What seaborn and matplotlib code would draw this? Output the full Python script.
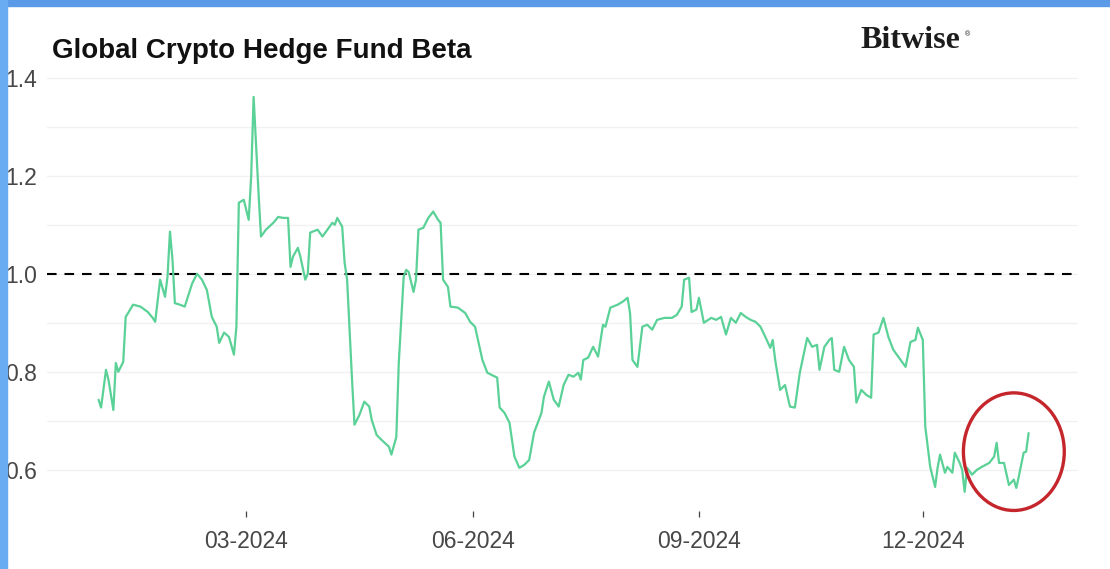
import numpy as np
import pandas as pd
import matplotlib
matplotlib.use("Agg")
import matplotlib.pyplot as plt
import matplotlib.dates as mdates
from matplotlib.patches import Ellipse, Rectangle
import seaborn as sns

START = "2024-01-01"

# days after START
days = [0, 1, 3, 4, 6, 7, 8, 10, 11, 12, 14, 17, 20, 22, 23, 25, 27, 28, 29, 30,
        31, 33, 35, 38, 40, 42, 44, 46, 48, 49, 51, 53, 55, 56, 57, 59, 61, 62, 63, 65,
        66, 68, 71, 73, 75, 77, 78, 79, 81, 82, 84, 85, 86, 87, 89, 91, 93, 95, 96, 97,
        99, 100, 101, 103, 104, 106, 108, 110, 111, 113, 115, 118, 119, 121, 122, 124, 125, 126, 128, 129,
        130, 132, 134, 136, 138, 139, 140, 142, 143, 146, 149, 151, 153, 156, 158, 162, 163, 165, 167, 169,
        171, 173, 175, 177, 180, 181, 183, 185, 187, 189, 191, 193, 195, 196, 197, 199, 201, 203, 205, 206,
        208, 211, 213, 215, 216, 217, 219, 221, 223, 225, 227, 230, 233, 235, 237, 238, 240, 241, 243, 244,
        246, 249, 251, 253, 255, 257, 259, 261, 263, 265, 267, 269, 271, 273, 274, 275, 277, 279, 281, 283,
        285, 288, 290, 292, 293, 295, 297, 298, 299, 301, 303, 305, 307, 308, 310, 312, 314, 315, 317, 319,
        321, 323, 325, 328, 330, 332, 333, 335, 336, 338, 340, 341, 342, 344, 345, 347, 348, 350, 351, 352,
        353, 355, 357, 359, 362, 364, 365, 366, 368, 370, 372, 373, 374, 376, 377, 378]

beta = [0.743, 0.727, 0.804, 0.784, 0.722, 0.818, 0.800, 0.820, 0.912, 0.920, 0.937, 0.933, 0.922, 0.910, 0.902, 0.988, 0.953, 0.994, 1.086, 1.030,
        0.940, 0.937, 0.933, 0.980, 1.000, 0.988, 0.967, 0.912, 0.892, 0.859, 0.880, 0.871, 0.835, 0.892, 1.145, 1.151, 1.110, 1.198, 1.361, 1.165,
        1.076, 1.090, 1.104, 1.116, 1.114, 1.114, 1.014, 1.035, 1.053, 1.035, 0.988, 1.000, 1.084, 1.086, 1.090, 1.076, 1.090, 1.104, 1.100, 1.114,
        1.096, 1.022, 0.988, 0.784, 0.692, 0.712, 0.739, 0.729, 0.702, 0.671, 0.661, 0.647, 0.631, 0.667, 0.818, 0.994, 1.008, 1.004, 0.963, 0.988,
        1.090, 1.094, 1.114, 1.127, 1.110, 1.104, 0.988, 0.973, 0.933, 0.931, 0.920, 0.902, 0.892, 0.824, 0.798, 0.788, 0.727, 0.716, 0.696, 0.627,
        0.604, 0.610, 0.620, 0.676, 0.716, 0.749, 0.780, 0.743, 0.729, 0.773, 0.794, 0.790, 0.798, 0.784, 0.824, 0.829, 0.851, 0.831, 0.896, 0.892,
        0.931, 0.937, 0.943, 0.951, 0.920, 0.824, 0.810, 0.892, 0.896, 0.886, 0.906, 0.910, 0.910, 0.916, 0.933, 0.988, 0.992, 0.922, 0.927, 0.951,
        0.900, 0.910, 0.906, 0.912, 0.876, 0.910, 0.900, 0.920, 0.912, 0.906, 0.902, 0.892, 0.871, 0.849, 0.865, 0.824, 0.763, 0.773, 0.729, 0.727,
        0.798, 0.869, 0.851, 0.855, 0.804, 0.851, 0.865, 0.869, 0.804, 0.800, 0.851, 0.824, 0.810, 0.737, 0.763, 0.753, 0.747, 0.876, 0.880, 0.910,
        0.871, 0.845, 0.831, 0.810, 0.861, 0.865, 0.890, 0.865, 0.688, 0.606, 0.565, 0.604, 0.631, 0.594, 0.606, 0.594, 0.635, 0.614, 0.600, 0.555,
        0.604, 0.590, 0.600, 0.606, 0.614, 0.627, 0.655, 0.614, 0.614, 0.569, 0.580, 0.563, 0.586, 0.635, 0.637, 0.675]

x_ticks = ["2024-03-01", "2024-06-01", "2024-09-01", "2024-12-01"]
y_ticks = [0.6, 0.8, 1.0, 1.2, 1.4]

df = pd.DataFrame({"date": pd.Timestamp(START) + pd.to_timedelta(days, unit="D"), "beta": beta})

sns.set_theme(style="white")
plt.rcParams["font.family"] = ["Liberation Sans", "DejaVu Sans"]

fig = plt.figure(figsize=(11.1, 5.69), dpi=100)
ax = fig.add_axes([0.0423, 0.102, 0.9287, 0.782])

# faint horizontal grid every 0.1
for v in np.arange(0.6, 1.41, 0.1):
    ax.axhline(v, color="#f1f1f1", lw=1.0, zorder=0)

sns.lineplot(data=df, x="date", y="beta", color="#5ad196", lw=1.6, ax=ax, zorder=3)
ax.axhline(1.0, color="black", lw=1.5, ls=(0, (4.6, 3.8)), zorder=2)

ax.set_xlim(pd.Timestamp("2023-12-11"), pd.Timestamp("2025-02-02"))
ax.set_ylim(0.516, 1.424)
ax.set_xticks(pd.to_datetime(x_ticks))
ax.xaxis.set_major_formatter(mdates.DateFormatter("%m-%Y"))
ax.set_yticks(y_ticks)
ax.set_yticklabels([f"{v:.1f}" for v in y_ticks])
ax.set_xlabel("")
ax.set_ylabel("")
for s in ax.spines.values():
    s.set_visible(False)
ax.tick_params(axis="x", length=4.5, width=0.9, color="#444444", pad=9,
               labelsize=16.5, labelcolor="#474747", bottom=True, direction="out")
ax.tick_params(axis="y", length=0, pad=7, labelsize=16.5, labelcolor="#474747")

# hand drawn circle around the latest readings
cx = mdates.date2num(pd.Timestamp(START) + pd.Timedelta(days=372))
ax.add_patch(Ellipse((cx, 0.637), 41, 0.24, fill=False, ec="#c4262c", lw=2.4,
                     clip_on=False, zorder=4))

fig.text(0.047, 0.898, "Global Crypto Hedge Fund Beta", fontsize=20,
         fontweight="bold", color="#111111", va="baseline", ha="left")
fig.text(0.775, 0.9156, "Bitwise", fontsize=23, family="Liberation Serif",
         fontweight="bold", color="#1c1c1c", va="baseline", ha="left")
fig.text(0.869, 0.937, "®", fontsize=5, color="#1c1c1c", va="baseline", ha="left")

# blue frame of the screenshot
fig.add_artist(Rectangle((0, 1 - 6 / 569), 1, 6 / 569, transform=fig.transFigure,
                         color="#5b9ae6", zorder=10))
fig.add_artist(Rectangle((0, 0), 7 / 1110, 1, transform=fig.transFigure,
                         color="#69acf2", zorder=10))

fig.savefig("out.png", dpi=100)
